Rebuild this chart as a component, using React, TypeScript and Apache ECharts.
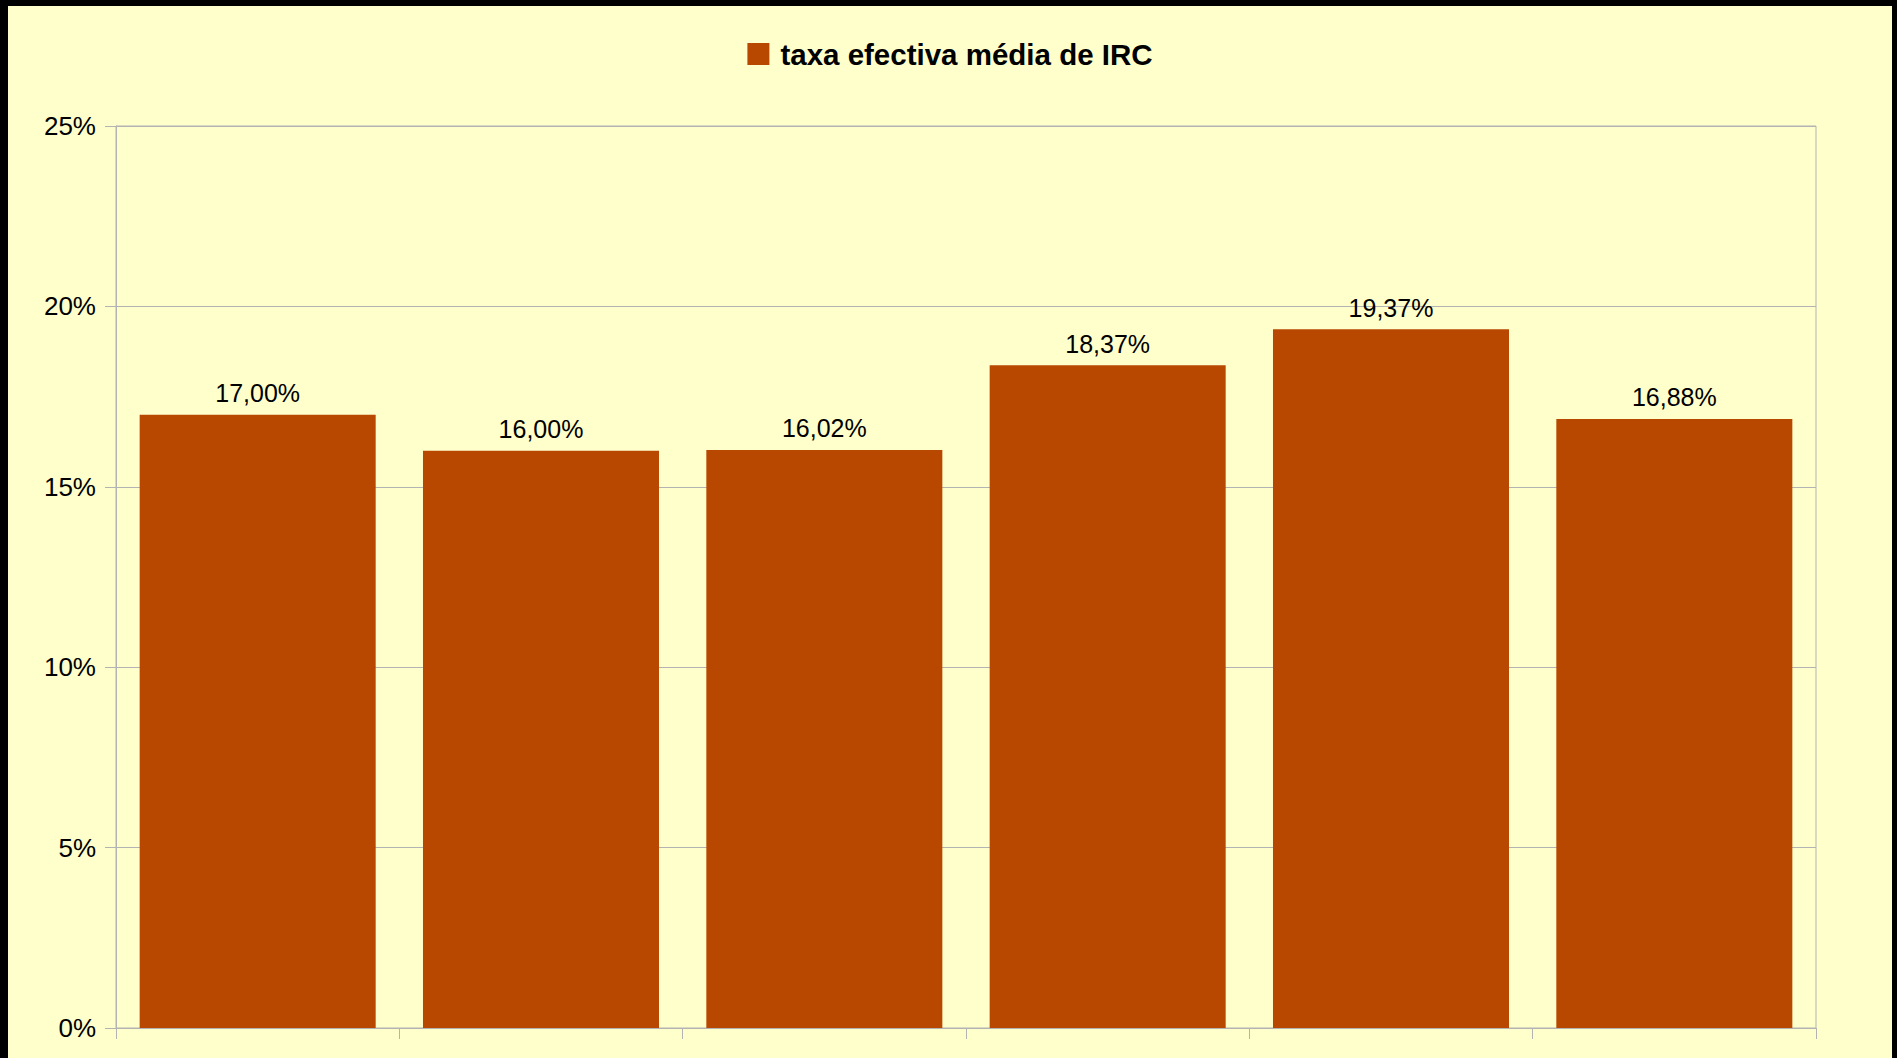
import React, { useEffect, useRef } from "react";
import * as echarts from "echarts";

// Effective average corporate income tax rate (IRC), one bar per period
const seriesName = "taxa efectiva média de IRC";
const categories = ["1", "2", "3", "4", "5", "6"];
const rates = [17.0, 16.0, 16.02, 18.37, 19.37, 16.88];
const yTicks = { min: 0, max: 25, interval: 5 };

const BAR_COLOR = "#B84700";
const BG_COLOR = "#FFFFCC";
const LINE_COLOR = "#B3B3B3";
const FONT = "'Liberation Sans', Arial, sans-serif";

export default function App() {
  const ref = useRef<HTMLDivElement>(null);

  useEffect(() => {
    document.body.style.margin = "0";
    if (!ref.current) return;
    const chart = echarts.init(ref.current, undefined, { renderer: "svg" });
    chart.setOption({
      animation: false,
      backgroundColor: BG_COLOR,
      textStyle: { fontFamily: FONT },
      legend: {
        show: true,
        top: 33,
        left: "center",
        padding: 0,
        itemWidth: 22,
        itemHeight: 22,
        icon: "rect",
        textStyle: {
          fontFamily: FONT,
          fontSize: 29.5,
          fontWeight: "bold",
          color: "#000",
          padding: [0, 0, 0, 6],
        },
        data: [seriesName],
      },
      grid: {
        show: true,
        left: 108,
        top: 120,
        right: 76,
        bottom: 30,
        borderColor: LINE_COLOR,
        borderWidth: 1,
        containLabel: false,
      },
      xAxis: {
        type: "category",
        data: categories,
        axisLine: { show: true, lineStyle: { color: LINE_COLOR, width: 1 } },
        axisTick: {
          show: true,
          length: 11,
          alignWithLabel: false,
          lineStyle: { color: LINE_COLOR },
        },
        axisLabel: { show: false },
      },
      yAxis: {
        type: "value",
        min: yTicks.min,
        max: yTicks.max,
        interval: yTicks.interval,
        axisLine: { show: true, lineStyle: { color: LINE_COLOR, width: 1 } },
        axisTick: { show: true, length: 11, lineStyle: { color: LINE_COLOR } },
        splitLine: { show: true, lineStyle: { color: LINE_COLOR, width: 1 } },
        axisLabel: {
          margin: 20,
          fontSize: 26,
          color: "#000",
          fontFamily: FONT,
          formatter: "{value}%",
        },
      },
      series: [
        {
          name: seriesName,
          type: "bar",
          data: rates,
          barCategoryGap: "16.7%",
          itemStyle: { color: BAR_COLOR },
          label: {
            show: true,
            position: "top",
            distance: 9,
            fontSize: 25,
            color: "#000",
            fontFamily: FONT,
            formatter: (p: any) => p.value.toFixed(2).replace(".", ",") + "%",
          },
        },
      ],
    });
    return () => chart.dispose();
  }, []);

  return (
    <div
      style={{
        position: "absolute",
        left: 0,
        top: 0,
        width: 1897,
        height: 1058,
        background: "#000",
      }}
    >
      <div
        ref={ref}
        style={{ position: "absolute", left: 8, top: 6, width: 1884, height: 1052 }}
      />
    </div>
  );
}
